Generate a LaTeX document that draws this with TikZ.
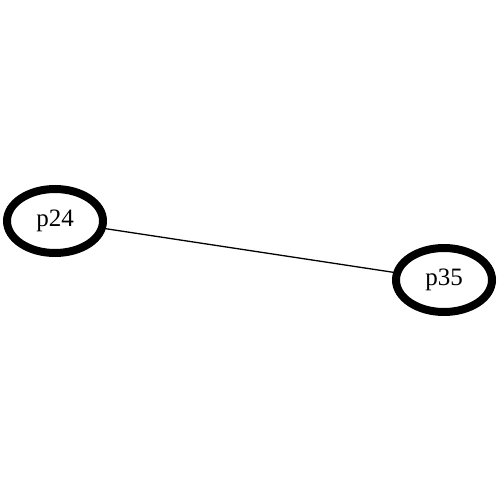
\documentclass[tikz,border=0pt]{standalone}
\usepackage{fontspec}
\setmainfont{Liberation Serif}
\usetikzlibrary{shapes.geometric}
\tikzset{
  peer/.style={draw, ellipse, line width=8pt, minimum width=96pt, minimum height=64pt, inner sep=0pt, font=\fontsize{25}{28}\selectfont},
  link/.style={line width=1.3pt}
}
\begin{document}
\begin{tikzpicture}[x=1pt, y=-1pt]
  \useasboundingbox (0, 0) rectangle (500, 500);

  \node[peer] (p24) at (55, 221) {p24};
  \node[peer] (p35) at (444, 280) {p35};

  \draw[link] (p24) -- (p35);
\end{tikzpicture}
\end{document}
